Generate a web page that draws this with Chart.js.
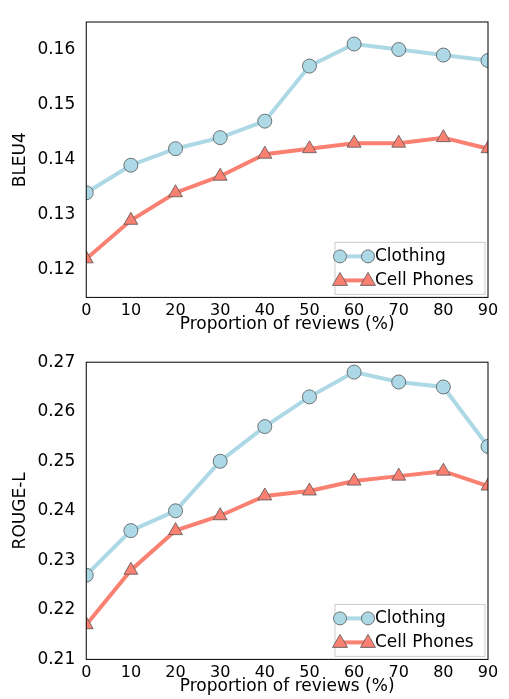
<!DOCTYPE html>
<html><head><meta charset="utf-8">
<script src="https://cdn.jsdelivr.net/npm/chart.js@4"></script>
<style>
body{margin:0;background:#fff;}
.p{position:relative;width:509px;height:349px;}
canvas{display:block;}
</style></head>
<body>
<div class="p"><canvas id="bleuChart" width="509" height="349"></canvas></div>
<div class="p" style="height:350px"><canvas id="rougeChart" width="509" height="350"></canvas></div>
<script>
const proportions = [0, 10, 20, 30, 40, 50, 60, 70, 80, 90];
const bleuClothing = [0.134, 0.139, 0.142, 0.144, 0.147, 0.157, 0.161, 0.160, 0.159, 0.158];
const bleuPhones = [0.122, 0.129, 0.134, 0.137, 0.141, 0.142, 0.143, 0.143, 0.144, 0.142];
const rougeClothing = [0.227, 0.236, 0.240, 0.250, 0.257, 0.263, 0.268, 0.266, 0.265, 0.253];
const rougePhones = [0.217, 0.228, 0.236, 0.239, 0.243, 0.244, 0.246, 0.247, 0.248, 0.245];
const seriesNames = ["Clothing", "Cell Phones"];
const blue = "#add8e6", red = "#fa8072";
const font = "DejaVu Sans";

const frameAndLegend = {
  id: "frameAndLegend",
  afterDraw(chart) {
    const { ctx, chartArea: a } = chart;
    ctx.save();
    ctx.strokeStyle = "#000";
    ctx.lineWidth = 1;
    ctx.strokeRect(a.left, a.top, a.right - a.left, a.bottom - a.top);
    // legend box bottom-right
    const w = 150, h = 52, x = a.right - w - 3, y = a.bottom - h - 3;
    ctx.fillStyle = "#fff";
    ctx.fillRect(x, y, w, h);
    ctx.strokeStyle = "#ccc";
    ctx.strokeRect(x, y, w, h);
    ctx.font = "17px '" + font + "'";
    ctx.textBaseline = "middle";
    chart.data.datasets.forEach((ds, i) => {
      const cy = y + 14 + i * 24;
      ctx.strokeStyle = ds.borderColor;
      ctx.lineWidth = 4;
      ctx.beginPath(); ctx.moveTo(x + 5, cy); ctx.lineTo(x + 33, cy); ctx.stroke();
      ctx.fillStyle = ds.borderColor;
      ctx.strokeStyle = "#555"; ctx.lineWidth = 0.8;
      [x + 5, x + 33].forEach(px => {
        ctx.beginPath();
        if (i === 0) ctx.arc(px, cy, 6.5, 0, Math.PI * 2);
        else { ctx.moveTo(px, cy - 8); ctx.lineTo(px + 7.5, cy + 5); ctx.lineTo(px - 7.5, cy + 5); ctx.closePath(); }
        ctx.fill(); ctx.stroke();
      });
      ctx.fillStyle = "#000";
      ctx.fillText(ds.label, x + 40, cy);
    });
    ctx.restore();
  }
};

function setupChart(id, yLabel, first, second, min, max, pad) {
  const ctx = document.getElementById(id).getContext("2d");
  const mk = (label, data, color, style, r) => ({
    label, data, borderColor: color, backgroundColor: color, borderWidth: 4,
    pointStyle: style, pointRadius: r, pointHoverRadius: r,
    pointBorderColor: "#555", pointBorderWidth: 0.8, tension: 0
  });
  return new Chart(ctx, {
    type: "line",
    data: {
      labels: proportions,
      datasets: [mk(seriesNames[0], first, blue, "circle", 7), mk(seriesNames[1], second, red, "triangle", 8)]
    },
    plugins: [frameAndLegend],
    options: {
      responsive: false, animation: false,
      layout: { padding: pad },
      plugins: { legend: { display: false }, tooltip: { enabled: false } },
      scales: {
        x: {
          type: "linear", min: 0, max: 90,
          ticks: { stepSize: 10, color: "#000", font: { family: font, size: 16 }, padding: -4 },
          grid: { display: false, drawTicks: true },
          border: { display: false },
          title: { display: true, text: "Proportion of reviews (%)", color: "#000", font: { family: font, size: 17 }, padding: { top: -2, bottom: 0 } }
        },
        y: {
          min, max,
          afterBuildTicks(s) { s.ticks = s.ticks.filter(t => Math.abs(Math.round(t.value * 100) - t.value * 100) < 1e-6); },
          ticks: { color: "#000", font: { family: font, size: 17 }, callback: v => v.toFixed(2) },
          grid: { display: false },
          border: { display: false },
          title: { display: true, text: yLabel, color: "#000", font: { family: font, size: 17 }, padding: 4 }
        }
      }
    }
  });
}

setupChart("bleuChart", "BLEU4", bleuClothing, bleuPhones, 0.115, 0.165, { top: 22, right: 21, left: 6, bottom: 14 });
setupChart("rougeChart", "ROUGE-L", rougeClothing, rougePhones, 0.21, 0.27, { top: 9, right: 21, left: 6, bottom: 2 });
</script>
</body></html>
